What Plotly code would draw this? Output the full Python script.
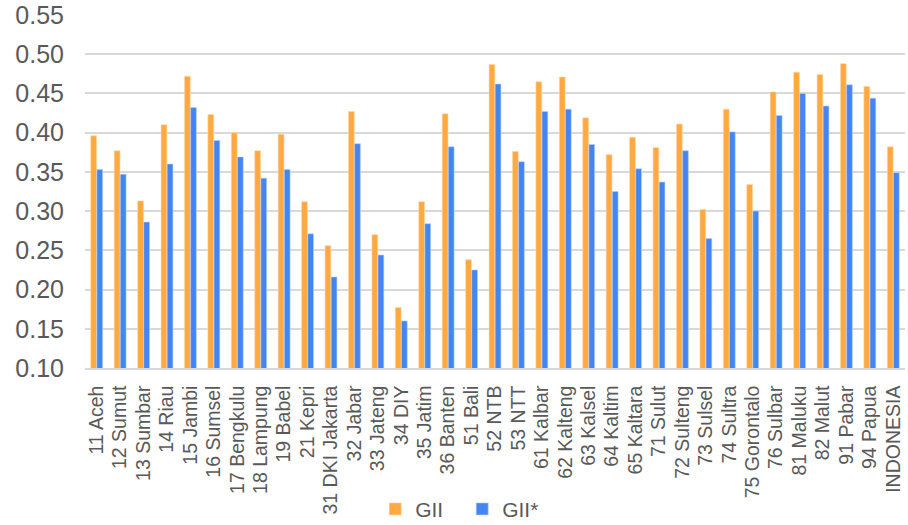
import plotly.graph_objects as go

provinces = [
    "11 Aceh", "12 Sumut", "13 Sumbar", "14 Riau", "15 Jambi", "16 Sumsel",
    "17 Bengkulu", "18 Lampung", "19 Babel", "21 Kepri", "31 DKI Jakarta",
    "32 Jabar", "33 Jateng", "34 DIY", "35 Jatim", "36 Banten", "51 Bali",
    "52 NTB", "53 NTT", "61 Kalbar", "62 Kalteng", "63 Kalsel", "64 Kaltim",
    "65 Kaltara", "71 Sulut", "72 Sulteng", "73 Sulsel", "74 Sultra",
    "75 Gorontalo", "76 Sulbar", "81 Maluku", "82 Malut", "91 Pabar",
    "94 Papua", "INDONESIA",
]

gii = [
    0.396, 0.377, 0.313, 0.410, 0.472, 0.423, 0.400, 0.377, 0.398, 0.312,
    0.256, 0.427, 0.270, 0.177, 0.312, 0.424, 0.238, 0.487, 0.376, 0.465,
    0.471, 0.419, 0.372, 0.394, 0.381, 0.411, 0.302, 0.430, 0.334, 0.452,
    0.477, 0.474, 0.488, 0.459, 0.382,
]

gii_star = [
    0.353, 0.347, 0.286, 0.360, 0.432, 0.390, 0.369, 0.342, 0.353, 0.271,
    0.216, 0.386, 0.244, 0.160, 0.284, 0.382, 0.225, 0.462, 0.363, 0.427,
    0.430, 0.385, 0.325, 0.354, 0.337, 0.377, 0.265, 0.401, 0.300, 0.422,
    0.450, 0.434, 0.461, 0.444, 0.349,
]

y_ticks = [0.10, 0.15, 0.20, 0.25, 0.30, 0.35, 0.40, 0.45, 0.50, 0.55]

ORANGE = "#FFA940"
BLUE = "#4386F2"
TEXT = "#595959"
GRID = "#D9D9D9"

fig = go.Figure()
fig.add_trace(go.Bar(
    x=provinces, y=gii, name="GII",
    marker=dict(color=ORANGE, line=dict(color="#FFD9A8", width=0.6)),
))
fig.add_trace(go.Bar(
    x=provinces, y=gii_star, name="GII*",
    marker=dict(color=BLUE, line=dict(color="#B5CFF8", width=0.6)),
))

fig.update_layout(
    width=908, height=525,
    margin=dict(l=85, r=3, t=15, b=157, autoexpand=False),
    paper_bgcolor="white", plot_bgcolor="white",
    barmode="group", bargap=0.48, bargroupgap=0.05,
    font=dict(family="Liberation Sans, Arial, sans-serif", color=TEXT),
    showlegend=True,
    legend=dict(
        orientation="h", x=0.46, xanchor="center",
        yref="container", y=0.03, yanchor="middle",
        font=dict(size=21, color=TEXT), itemwidth=30, entrywidth=42,
        traceorder="normal",
    ),
)

fig.update_yaxes(
    range=[0.10, 0.55], tickvals=y_ticks, tickformat=".2f",
    showgrid=True, gridcolor=GRID, gridwidth=1.5,
    zeroline=False, showline=False, automargin=False,
    tickfont=dict(size=25, color=TEXT), ticks="", ticklen=0,
    ticklabelstandoff=20,
)
fig.update_xaxes(
    tickangle=-90, tickfont=dict(size=19.5, color=TEXT),
    showline=True, linecolor=GRID, linewidth=1.5, automargin=False,
    ticks="", showgrid=False, ticklabelstandoff=8,
)

fig.write_html("out.html")
